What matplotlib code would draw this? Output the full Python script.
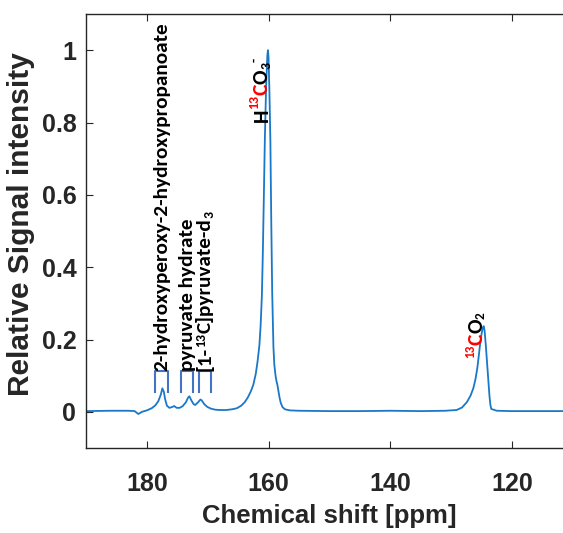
import matplotlib
matplotlib.use("Agg")
import matplotlib.pyplot as plt
from matplotlib.transforms import IdentityTransform

# 13C spectrum: chemical shift (ppm, descending) and normalised signal
ppm = [190, 186, 183, 182, 181.4, 180.8, 180, 179.2, 178.6, 178.1, 177.7,
       177.45, 177.2, 177.0, 176.7, 176.3, 175.9, 175.5, 175.1, 174.6, 174.1,
       173.6, 173.2, 173.0, 172.7, 172.3, 172.05, 171.6, 171.2, 171.0, 170.6,
       170.1, 169.5, 168.8, 168.0, 167.0, 166.0, 165.2, 164.5, 163.9, 163.4,
       162.9, 162.5, 162.1, 161.8, 161.5, 161.3, 161.1, 160.95, 160.8, 160.6,
       160.4, 160.2, 160.1, 160.0, 159.85, 159.7, 159.55, 159.4, 159.2, 159.05,
       158.85, 158.7, 158.55, 158.4, 158.2, 158.0, 157.7, 157.3, 156.5, 155,
       150, 145, 140, 135, 131, 129.1, 128.2, 127.4, 126.8, 126.35, 126.0,
       125.7, 125.45, 125.25, 125.0, 124.8, 124.65, 124.5, 124.3, 124.15,
       124.0, 123.85, 123.7, 123.55, 123.4, 122.5, 120, 115, 110]
signal = [0.002, 0.003, 0.003, 0.002, -0.006, 0.0, 0.004, 0.010, 0.018, 0.030,
          0.048, 0.065, 0.055, 0.035, 0.017, 0.011, 0.013, 0.016, 0.011, 0.011,
          0.016, 0.026, 0.040, 0.043, 0.032, 0.021, 0.019, 0.026, 0.034, 0.032,
          0.022, 0.014, 0.009, 0.006, 0.005, 0.005, 0.007, 0.010, 0.017, 0.027,
          0.040, 0.057, 0.075, 0.105, 0.14, 0.185, 0.24, 0.32, 0.43, 0.57, 0.76,
          0.90, 0.985, 1.0, 0.98, 0.88, 0.75, 0.52, 0.33, 0.18, 0.13, 0.10,
          0.085, 0.075, 0.06, 0.04, 0.025, 0.013, 0.007, 0.004, 0.003, 0.002,
          0.002, 0.003, 0.002, 0.003, 0.005, 0.012, 0.027, 0.045, 0.065, 0.09,
          0.12, 0.155, 0.185, 0.215, 0.232, 0.237, 0.225, 0.185, 0.15, 0.115,
          0.08, 0.045, 0.02, 0.008, 0.003, 0.002, 0.002, 0.002]

x_ticks = [180, 160, 140, 120]
y_ticks = [0, 0.2, 0.4, 0.6, 0.8, 1.0]
y_tick_labels = ["0", "0.2", "0.4", "0.6", "0.8", "1"]

# minor resonances marked with brackets
bracket_centres = [177.55, 173.4, 170.45]
bracket_span = 2.1
bracket_low = 0.055
bracket_high = 0.113

AXIS_GREY = "#262626"
LINE_BLUE = "#1a78c8"
BRACKET_BLUE = "#4472C4"
LABEL_FONT = ["Carlito", "Lato", "DejaVu Sans"]
TICK_FONT = ["Liberation Sans Narrow", "Liberation Sans"]
AXIS_FONT = ["Liberation Sans"]

fig = plt.figure(figsize=(5.63, 5.33), dpi=100)
ax = fig.add_axes([86 / 563, 85 / 533, 486.8 / 563, 434 / 533])

ax.plot(ppm, signal, color=LINE_BLUE, lw=1.3)

ax.set_xlim(190, 110)
ax.set_ylim(-0.1, 1.1)
ax.set_xticks(x_ticks)
ax.set_yticks(y_ticks)
ax.set_yticklabels(y_tick_labels)
ax.tick_params(direction="in", length=5, width=0.8, top=True, right=True,
               colors=AXIS_GREY, labelsize=18)
ax.tick_params(axis="x", pad=17)
ax.tick_params(axis="y", pad=7)
for lab in ax.get_xticklabels() + ax.get_yticklabels():
    lab.set_fontfamily(TICK_FONT)
    lab.set_fontweight("bold")
for sp in ax.spines.values():
    sp.set_color(AXIS_GREY)
    sp.set_linewidth(1.0)

ax.set_xlabel("Chemical shift [ppm]", fontsize=18.5, fontweight="bold",
              color=AXIS_GREY, family=AXIS_FONT)
ax.set_ylabel("Relative Signal intensity", fontsize=21.5, fontweight="bold",
              color=AXIS_GREY, family=AXIS_FONT)
ax.xaxis.set_label_coords(0.5, -0.13)
ax.yaxis.set_label_coords(-0.105, 0.516)

# brackets over the minor peaks
for c in bracket_centres:
    lo, hi = c + bracket_span / 2, c - bracket_span / 2
    ax.plot([lo, lo, hi, hi], [bracket_low, bracket_high, bracket_high, bracket_low],
            color=BRACKET_BLUE, lw=1.5, solid_joinstyle="round")


def stacked_text(x, y, parts, dx=0.0, family=LABEL_FONT):
    """Write vertical text made of differently styled runs, bottom to top.

    Each part is (text, colour, size, rise) where rise lifts the run off the
    baseline in pixels (super/subscripts)."""
    renderer = fig.canvas.get_renderer()
    bx, by = ax.transData.transform((x, y))
    bx += dx
    for text, colour, size, rise in parts:
        t = ax.text(bx - rise, by, text, transform=IdentityTransform(),
                    rotation=90, rotation_mode="anchor", ha="left",
                    va="baseline", color=colour, fontsize=size,
                    fontweight="bold", family=family, clip_on=False)
        by += t.get_window_extent(renderer).height


BLACK = "black"
RED = "#FF0000"
name_size = 15.3

stacked_text(bracket_centres[0], bracket_high,
             [("2-hydroxyperoxy-2-hydroxypropanoate", BLACK, name_size, 0)], dx=6)
stacked_text(bracket_centres[1], bracket_high,
             [("pyruvate hydrate", BLACK, name_size, 0)], dx=6)
stacked_text(bracket_centres[2], bracket_high,
             [("[1-", BLACK, name_size, 0), ("13", BLACK, 10, 6),
              ("C]pyruvate-d", BLACK, name_size, 0), ("3", BLACK, 10, -3)], dx=6)

# bicarbonate and carbon dioxide labels
stacked_text(160.1, 0.80,
             [("H", BLACK, 15.5, 0), ("13", RED, 10, 10), ("C", RED, 15.5, 0),
              ("O", BLACK, 15.5, 0), ("3", BLACK, 10, -3), ("-", BLACK, 10, 10)])
stacked_text(124.92, 0.149,
             [("13", RED, 9.5, 8), ("C", RED, 15.5, 0), ("O", BLACK, 15.5, 0),
              ("2", BLACK, 9.5, -3)])

fig.savefig("out.png", dpi=100)
